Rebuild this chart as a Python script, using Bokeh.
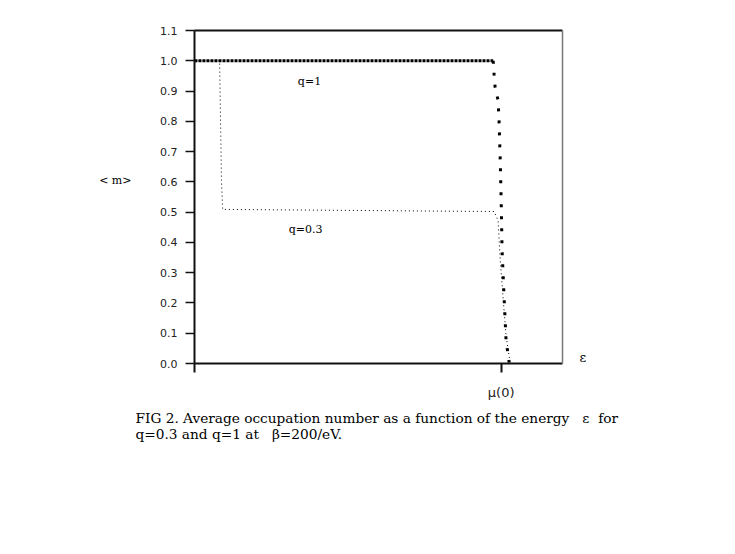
from bokeh.plotting import figure
from bokeh.models import FixedTicker, LinearAxis, Label, Range1d, Title, PrintfTickFormatter
from bokeh.embed import file_html
from bokeh.resources import INLINE

# energy in units of mu(0)
q1_x = [0.0, 0.974, 0.977, 0.980, 0.990, 0.993, 0.997, 1.000, 1.003, 1.010, 1.016, 1.026]
q1_y = [1.0, 1.0, 0.955, 0.915, 0.869, 0.803, 0.671, 0.538, 0.373, 0.208, 0.076, 0.003]

q03_x = [0.0, 0.082, 0.082, 0.085, 0.088, 0.092, 0.977, 0.990, 0.997, 1.007, 1.016, 1.029]
q03_y = [1.0, 1.0, 0.990, 0.800, 0.605, 0.509, 0.502, 0.472, 0.340, 0.208, 0.092, 0.003]

y_ticks = [0.0, 0.1, 0.2, 0.3, 0.4, 0.5, 0.6, 0.7, 0.8, 0.9, 1.0, 1.1]
x_ticks = [0, 1]
x_tick_labels = {0: "", 1: "μ(0)"}
y_name = "< m>"
x_name = "ε"
NB = "\u00a0"
caption_1 = "FIG 2. Average occupation number as a function of the energy " + NB * 2 + "ε " + NB + "for"
caption_2 = "q=0.3 and q=1 at " + NB * 2 + "β=200/eV."

W, H = 719, 538
p = figure(width=W, height=H, output_backend="svg", toolbar_location=None,
           x_range=Range1d(0, 1.2), y_range=Range1d(0, 1.1),
           x_axis_location=None, y_axis_location=None,
           min_border_left=194, min_border_right=W - 562,
           min_border_top=30, min_border_bottom=H - 363)
p.grid.visible = False
p.outline_line_color = None
p.background_fill_color = "white"
p.border_fill_color = "white"

serif = "DejaVu Serif"

yax = LinearAxis(ticker=FixedTicker(ticks=y_ticks))
yax.formatter = PrintfTickFormatter(format="%.1f")
yax.axis_line_width = 2
yax.axis_line_color = "#111"
yax.major_tick_line_color = "#111"
yax.major_tick_line_width = 1.5
yax.major_tick_in = 0
yax.major_tick_out = 9
yax.minor_tick_line_color = None
yax.major_label_standoff = 8
yax.major_label_text_font = "DejaVu Sans"
yax.major_label_text_font_size = "11px"
yax.major_label_text_color = "#222"
p.add_layout(yax, "left")

# second left axis only carries the "< m>" name
yname = LinearAxis(ticker=FixedTicker(ticks=[0.605]))
yname.major_label_overrides = {0.605: y_name}
yname.axis_line_color = None
yname.major_tick_line_color = None
yname.minor_tick_line_color = None
yname.major_tick_out = 0
yname.major_tick_in = 0
yname.major_label_standoff = 26
yname.major_label_text_font = serif
yname.major_label_text_font_size = "11px"
yname.major_label_text_color = "black"
p.add_layout(yname, "left")

xax = LinearAxis(ticker=FixedTicker(ticks=x_ticks))
xax.major_label_overrides = x_tick_labels
xax.axis_line_width = 2
xax.axis_line_color = "#111"
xax.major_tick_line_color = "#111"
xax.major_tick_line_width = 2
xax.major_tick_in = 0
xax.major_tick_out = 9
xax.minor_tick_line_color = None
xax.major_label_standoff = 12
xax.major_label_text_font = "DejaVu Sans"
xax.major_label_text_font_size = "13px"
xax.major_label_text_color = "#222"
p.add_layout(xax, "below")

top = LinearAxis(ticker=FixedTicker(ticks=[]))
top.axis_line_width = 2
top.axis_line_color = "#111"
top.major_tick_line_color = None
top.minor_tick_line_color = None
top.major_label_text_font_size = "0px"
p.add_layout(top, "above")

right = LinearAxis(ticker=FixedTicker(ticks=[0.02]))
right.major_label_overrides = {0.02: x_name}
right.axis_line_width = 1.5
right.axis_line_color = "#777"
right.major_tick_line_color = None
right.minor_tick_line_color = None
right.major_tick_out = 0
right.major_tick_in = 0
right.major_label_standoff = 17
right.major_label_text_font = serif
right.major_label_text_font_size = "13px"
right.major_label_text_color = "black"
p.add_layout(right, "right")

# q=1 : thick dotted
p.line(q1_x[:2], q1_y[:2], line_color="black", line_width=3, line_dash="3 1")
p.line(q1_x[1:], q1_y[1:], line_color="black", line_width=3, line_dash="3 9")
# q=0.3 : thin dotted
p.line(q03_x, q03_y, line_color="black", line_width=1, line_dash="1 3")

for x, y, t in [(0.375, 0.932, "q=1"), (0.362, 0.443, "q=0.3")]:
    p.add_layout(Label(x=x, y=y, text=t, text_font=serif, text_font_size="11px",
                       text_align="center", text_baseline="middle", text_color="black"))

p.add_layout(Title(text=caption_1 + "\n" + caption_2, align="left", offset=-59, standoff=10,
                   text_font=serif, text_font_size="13.7px", text_font_style="normal",
                   text_line_height=1.0, text_color="black"), "below")

open("out.html", "w").write(file_html(p, INLINE))
